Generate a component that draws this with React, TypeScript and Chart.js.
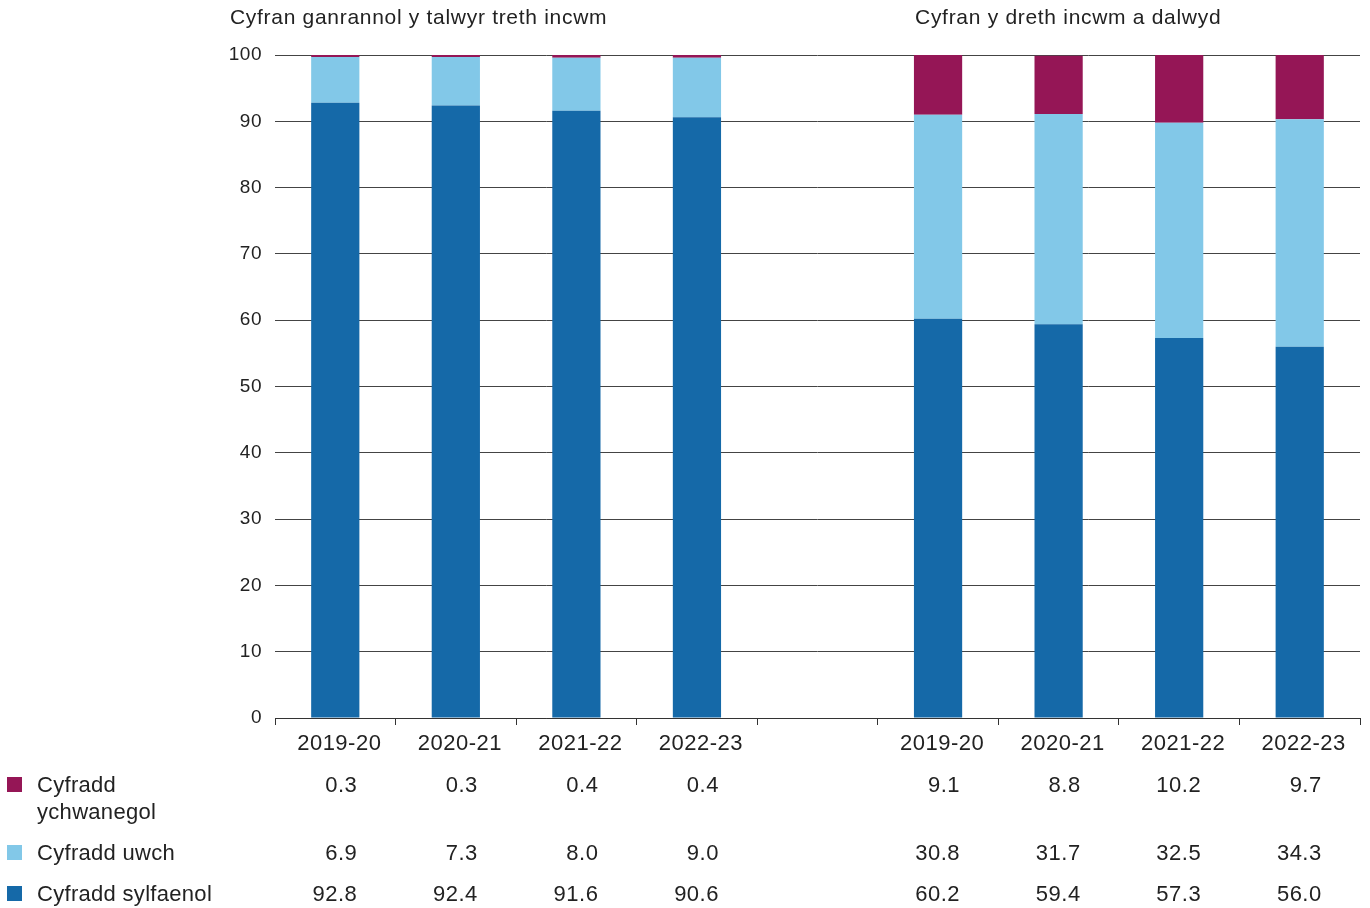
import React, { useEffect, useRef } from "react";
import { Chart, registerables } from "chart.js";

Chart.register(...registerables);

const categories = ["2019-20", "2020-21", "2021-22", "2022-23", "", "2019-20", "2020-21", "2021-22", "2022-23"];
const basicRate = [92.8, 92.4, 91.6, 90.6, null, 60.2, 59.4, 57.3, 56.0];
const higherRate = [6.9, 7.3, 8.0, 9.0, null, 30.8, 31.7, 32.5, 34.3];
const additionalRate = [0.3, 0.3, 0.4, 0.4, null, 9.1, 8.8, 10.2, 9.7];
const groupTitles = ["Cyfran ganrannol y talwyr treth incwm", "Cyfran y dreth incwm a dalwyd"];
const seriesLabels = [["Cyfradd", "ychwanegol"], ["Cyfradd uwch"], ["Cyfradd sylfaenol"]];
const yTicks = [0, 10, 20, 30, 40, 50, 60, 70, 80, 90, 100];

const COLORS = { basic: "#1569a8", higher: "#82c8e8", additional: "#951656" };
const FONT = "'Liberation Sans', Arial, Helvetica, sans-serif";
const TEXT = "#222222";

const spacingPlugin = {
  id: "spacing",
  beforeDraw(chart: any) {
    chart.ctx.letterSpacing = "0.5px";
  },
};

const overlayPlugin = {
  id: "overlay",
  afterDraw(chart: any) {
    const ctx = chart.ctx;
    const x = chart.scales.x;
    ctx.save();
    ctx.fillStyle = TEXT;
    ctx.textBaseline = "middle";
    // group titles
    ctx.font = `21px ${FONT}`;
    ctx.letterSpacing = "0.7px";
    ctx.textAlign = "left";
    ctx.fillText(groupTitles[0], 230, 18);
    ctx.fillText(groupTitles[1], x.getPixelForValue(5) - 23, 18);

    // data table rows
    const rows = [
      { data: additionalRate, color: COLORS.additional, y: 785, label: seriesLabels[0] },
      { data: higherRate, color: COLORS.higher, y: 853, label: seriesLabels[1] },
      { data: basicRate, color: COLORS.basic, y: 894, label: seriesLabels[2] },
    ];
    ctx.font = `22px ${FONT}`;
    rows.forEach((r) => {
      ctx.fillStyle = r.color;
      ctx.fillRect(7, r.y - 8, 15, 15);
      ctx.fillStyle = TEXT;
      ctx.textAlign = "left";
      ctx.letterSpacing = "0.3px";
      r.label.forEach((line, i) => ctx.fillText(line, 37, r.y + 1 + i * 27));
      ctx.textAlign = "right";
      ctx.letterSpacing = "0.5px";
      r.data.forEach((v, i) => {
        if (v === null) return;
        ctx.fillText(v.toFixed(1), x.getPixelForValue(i) + 22, r.y + 1);
      });
    });
    ctx.restore();
  },
};

export default function App() {
  const ref = useRef<HTMLCanvasElement>(null);
  useEffect(() => {
    if (!ref.current) return;
    const chart = new Chart(ref.current, {
      type: "bar",
      data: {
        labels: categories,
        datasets: [
          { label: seriesLabels[2].join(" "), data: basicRate, backgroundColor: COLORS.basic },
          { label: seriesLabels[1].join(" "), data: higherRate, backgroundColor: COLORS.higher },
          { label: seriesLabels[0].join(" "), data: additionalRate, backgroundColor: COLORS.additional },
        ],
      },
      options: {
        responsive: false,
        animation: false,
        devicePixelRatio: 1,
        layout: { padding: { left: 0, right: 10, top: 55, bottom: 0 } },
        datasets: { bar: { barPercentage: 0.4, categoryPercentage: 1 } },
        plugins: { legend: { display: false }, tooltip: { enabled: false }, title: { display: false } },
        scales: {
          x: {
            stacked: true,
            grid: { display: true, drawOnChartArea: false, drawTicks: true, tickLength: 7, offset: true, color: "#333", lineWidth: 1 },
            border: { display: true, color: "#333", width: 1 },
            ticks: { color: TEXT, font: { family: FONT, size: 22 }, padding: 6, labelOffset: 4, maxRotation: 0, autoSkip: false },
            afterFit: (s: any) => { s.height = 190; },
          },
          y: {
            stacked: true,
            min: 0,
            max: 100,
            afterBuildTicks: (s: any) => { s.ticks = yTicks.map((v) => ({ value: v })); },
            grid: { color: "#444", lineWidth: 1, drawTicks: false },
            border: { display: false },
            ticks: { color: TEXT, font: { family: FONT, size: 19 }, padding: 13 },
            afterFit: (s: any) => { s.width = 275; },
          },
        },
      },
      plugins: [spacingPlugin, overlayPlugin],
    });
    return () => chart.destroy();
  }, []);
  return (
    <div style={{ position: "fixed", left: 0, top: 0, width: 1370, height: 908, background: "#fff" }}>
      <canvas ref={ref} width={1370} height={908} style={{ display: "block" }} />
    </div>
  );
}
